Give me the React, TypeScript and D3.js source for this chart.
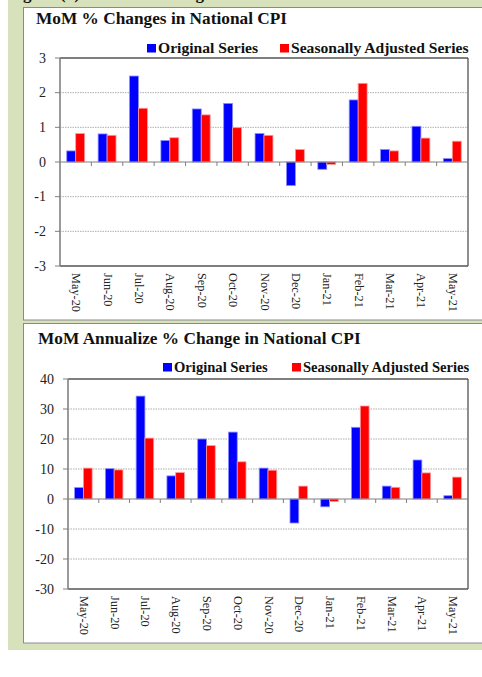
import React from "react";
import * as d3 from "d3";

const categories = ["May-20","Jun-20","Jul-20","Aug-20","Sep-20","Oct-20","Nov-20","Dec-20","Jan-21","Feb-21","Mar-21","Apr-21","May-21"];
const momOriginal = [0.32,0.81,2.48,0.62,1.53,1.69,0.82,-0.68,-0.21,1.79,0.36,1.03,0.10];
const momSA = [0.82,0.77,1.55,0.70,1.36,0.99,0.77,0.36,-0.07,2.27,0.32,0.69,0.60];
const annOriginal = [3.8,10.1,34.3,7.7,20.0,22.3,10.3,-8.0,-2.6,23.9,4.3,13.0,1.1];
const annSA = [10.3,9.7,20.3,8.8,17.8,12.4,9.6,4.3,-0.8,31.0,3.9,8.7,7.3];
const momTicks = [-3,-2,-1,0,1,2,3];
const annTicks = [-30,-20,-10,0,10,20,30,40];
const seriesNames = ["Original Series","Seasonally Adjusted Series"];
const seriesColors = ["#0000ff","#ff0000"];
const seriesEdges = ["#8c8cff","#ff9a9a"];

const FONT = "'Liberation Serif', 'Times New Roman', serif";

type PanelProps = {
  boxTop: number; boxBottom: number;
  title: string; titleX: number; titleY: number;
  legendY: number; legendX: number[]; legendSize: number;
  left: number; right: number; top: number; bottom: number;
  ticks: number[]; a: number[]; b: number[];
  labelGap: number;
};

function Panel(p: PanelProps) {
  const x0 = d3.scaleBand<string>().domain(categories).range([p.left, p.right]).paddingInner(0).paddingOuter(0);
  const bw = x0.bandwidth();
  const x1 = d3.scaleBand<string>().domain(["a","b"]).range([bw*0.215, bw*0.785]).padding(0);
  const y = d3.scaleLinear().domain([p.ticks[0], p.ticks[p.ticks.length-1]]).range([p.bottom, p.top]);
  const y0 = y(0);
  const series = [p.a, p.b];
  return (
    <g>
      <rect x={23.5} y={p.boxTop} width={470} height={p.boxBottom - p.boxTop} fill="#ffffff" stroke="#8a8a8a" strokeWidth={1} />
      <text x={p.titleX} y={p.titleY} fontFamily={FONT} fontWeight="bold" fontSize={17.3} fill="#111">{p.title}</text>
      {seriesNames.map((n, i) => (
        <g key={n}>
          <rect x={p.legendX[i]} y={p.legendY - 9} width={9} height={8.5} fill={seriesColors[i]} />
          <text x={p.legendX[i] + 11} y={p.legendY} fontFamily={FONT} fontWeight="bold" fontSize={p.legendSize} fill="#111">{n}</text>
        </g>
      ))}
      {p.ticks.map(t => (
        <g key={t}>
          {t !== 0 && t !== p.ticks[0] && t !== p.ticks[p.ticks.length-1] && (
            <line x1={p.left} x2={p.right} y1={y(t)} y2={y(t)} stroke="#9a9a9a" strokeWidth={0.8} strokeDasharray="1.5,1" />
          )}
          <line x1={p.left - 5} x2={p.left} y1={y(t)} y2={y(t)} stroke="#808080" strokeWidth={1} />
          <text x={p.left - 14} y={y(t) + 4.5} textAnchor="end" fontFamily={FONT} fontSize={14} fill="#222">{t}</text>
        </g>
      ))}
      <line x1={p.left} x2={p.right} y1={p.top} y2={p.top} stroke="#000" strokeWidth={1.2} />
      <line x1={p.right} x2={p.right} y1={p.top} y2={p.bottom} stroke="#444" strokeWidth={1.2} />
      <line x1={p.left} x2={p.right} y1={p.bottom} y2={p.bottom} stroke="#555" strokeWidth={1.3} />
      {categories.map((c, ci) => (
        <g key={c}>
          {series.map((s, si) => {
            const v = s[ci];
            const xx = (x0(c) as number) + (x1(si === 0 ? "a" : "b") as number);
            return (
              <rect key={si} x={xx} width={x1.bandwidth()} y={Math.min(y(v), y0)} height={Math.abs(y(v) - y0)}
                fill={seriesColors[si]} stroke={seriesEdges[si]} strokeWidth={0.8} />
            );
          })}
        </g>
      ))}
      <line x1={p.left} x2={p.right} y1={y0} y2={y0} stroke="#808080" strokeWidth={1.2} />
      {categories.slice(1).map(c => (
        <line key={c} x1={x0(c)} x2={x0(c)} y1={y0} y2={y0 + 4} stroke="#808080" strokeWidth={1} />
      ))}
      <line x1={p.left} x2={p.left} y1={p.top} y2={p.bottom} stroke="#808080" strokeWidth={1.6} />
      {categories.map(c => {
        const cx = (x0(c) as number) + bw / 2;
        const ty = p.bottom + p.labelGap;
        return (
          <text key={c} transform={`translate(${cx - 3.5},${ty}) rotate(90)`} fontFamily={FONT} fontSize={12.3} fill="#222">{c}</text>
        );
      })}
    </g>
  );
}

export default function App() {
  return (
    <svg width={482} height={677} style={{ position: "absolute", left: 0, top: 0, background: "#fff" }}>
      <rect x={8} y={0} width={474} height={650} fill="#d7e2bc" />
      <text x={8} y={-1} fontFamily={FONT} fontWeight="bold" fontSize={17} fill="#111">Figure (1): MoM % Changes in CPI</text>
      <Panel boxTop={7.5} boxBottom={320} title="MoM % Changes in National CPI" titleX={36} titleY={24}
        legendY={53} legendX={[147, 280]} legendSize={15.6} left={60} right={468} top={58} bottom={266}
        ticks={momTicks} a={momOriginal} b={momSA} labelGap={7} />
      <Panel boxTop={323.5} boxBottom={643} title="MoM Annualize % Change in National CPI" titleX={38} titleY={344}
        legendY={372} legendX={[163, 292]} legendSize={14.6} left={68} right={468} top={379} bottom={589}
        ticks={annTicks} a={annOriginal} b={annSA} labelGap={7} />
    </svg>
  );
}
